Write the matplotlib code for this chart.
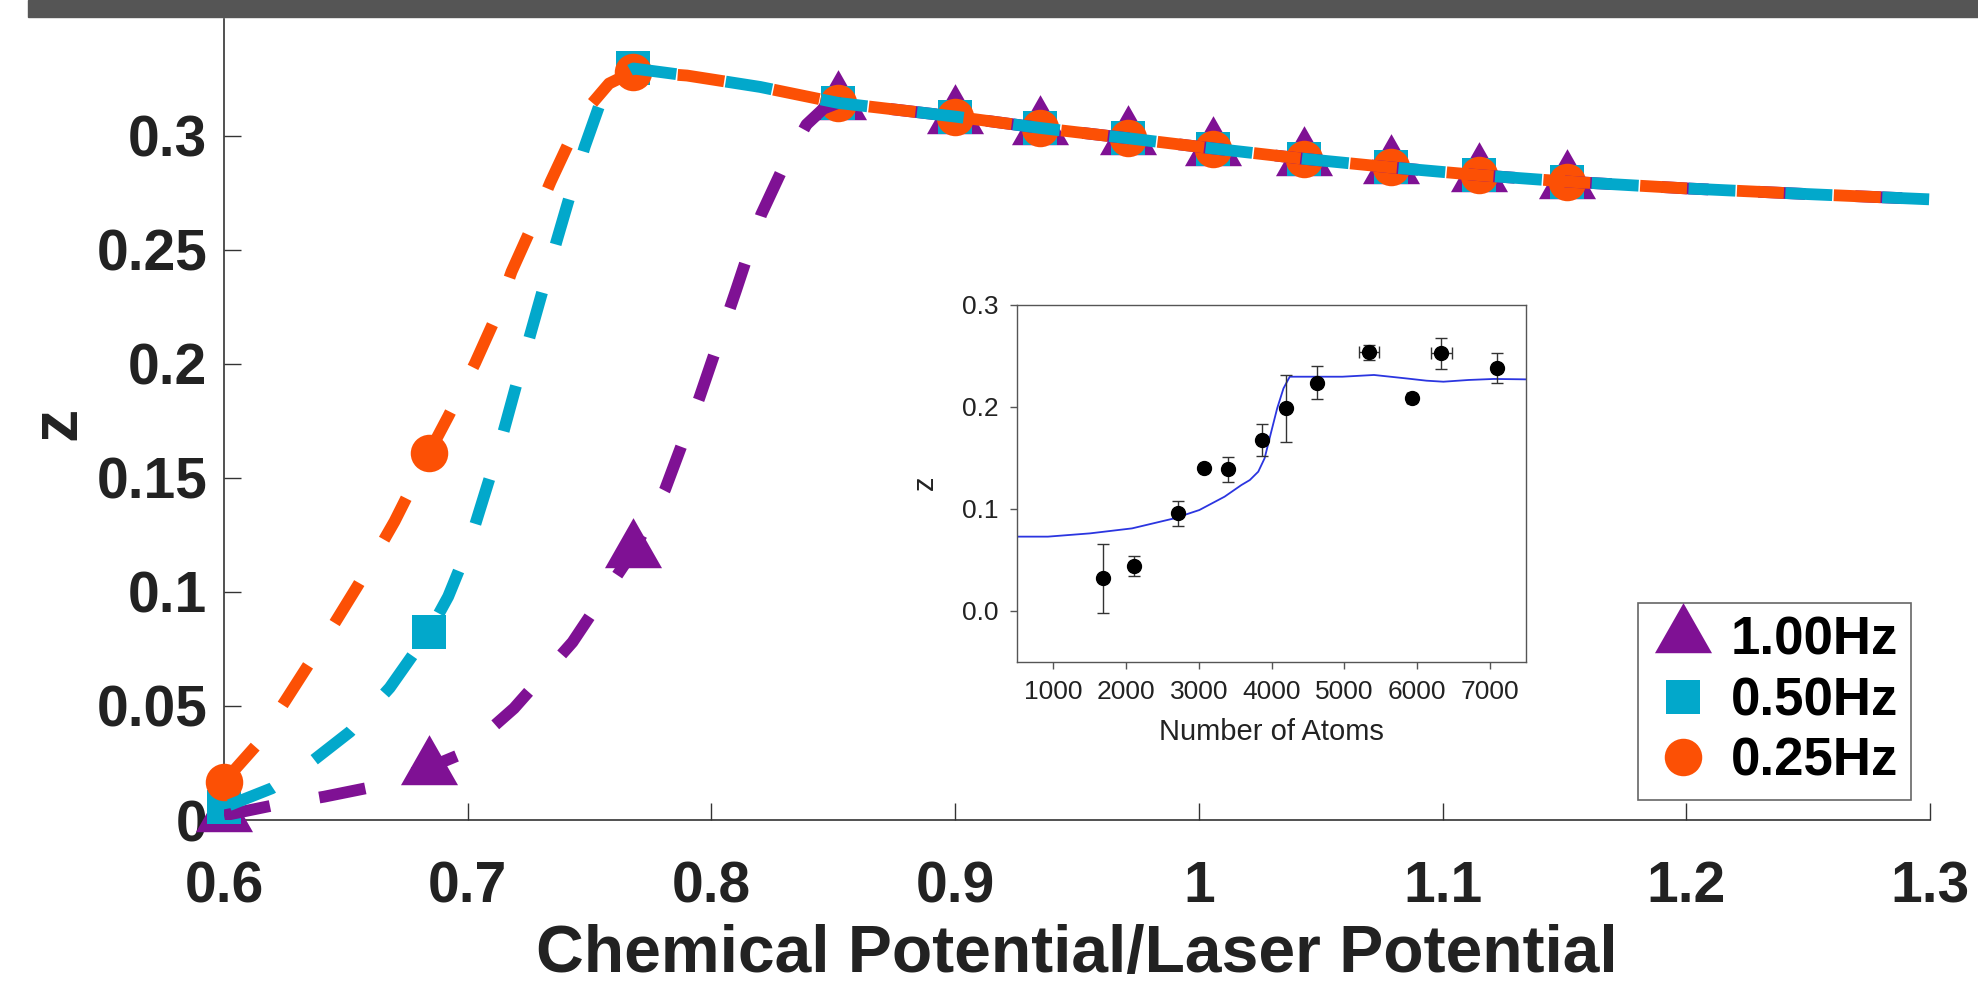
import numpy as np
import matplotlib
matplotlib.use('Agg')
import matplotlib.pyplot as plt
from matplotlib.lines import Line2D
from matplotlib.markers import MarkerStyle
from matplotlib.path import Path
from matplotlib.patches import Rectangle

plt.rcParams['font.family'] = ['Liberation Sans', 'DejaVu Sans']
plt.rcParams['lines.scale_dashes'] = False

# ---- main chart data ----
LABELS = ['1.00Hz', '0.50Hz', '0.25Hz']
MARK_X = [0.600, 0.684, 0.768, 0.852, 0.900, 0.935, 0.971, 1.006, 1.043, 1.079, 1.115, 1.151]
Z_100 = [0.002, 0.023, 0.118, 0.3145, 0.3085, 0.3035, 0.299, 0.2945, 0.290, 0.2862, 0.2828, 0.280]
Z_050 = [0.0056, 0.0823, 0.3296, 0.3145, 0.3085, 0.3035, 0.299, 0.2945, 0.290, 0.2862, 0.2828, 0.280]
Z_025 = [0.0168, 0.1608, 0.3282, 0.3145, 0.3085, 0.3035, 0.299, 0.2945, 0.290, 0.2862, 0.2828, 0.280]

# dashed curves: rising part of each series, then the shared falling part
HEAD_100_X = [0.600, 0.621, 0.641, 0.660, 0.684, 0.698, 0.719, 0.743, 0.768, 0.781, 0.795,
              0.810, 0.8204, 0.8302, 0.839, 0.846]
HEAD_100_Y = [0.002, 0.0066, 0.0102, 0.0143, 0.023, 0.0292, 0.049, 0.078, 0.118, 0.145, 0.185,
              0.232, 0.2655, 0.288, 0.305, 0.312]
HEAD_050_X = [0.600, 0.6196, 0.636, 0.6517, 0.668, 0.684, 0.692, 0.700, 0.709, 0.7146, 0.7201,
              0.7256, 0.731, 0.7365, 0.742, 0.748, 0.7543, 0.761, 0.768]
HEAD_050_Y = [0.0056, 0.0139, 0.0256, 0.0387, 0.058, 0.0823, 0.098, 0.119, 0.150, 0.170, 0.1915,
              0.2127, 0.2332, 0.254, 0.2741, 0.2953, 0.3143, 0.3255, 0.3296]
HEAD_025_X = [0.600, 0.6134, 0.625, 0.640, 0.655, 0.670, 0.684, 0.692, 0.703, 0.711, 0.718,
              0.726, 0.734, 0.742, 0.750, 0.758, 0.768]
HEAD_025_Y = [0.0168, 0.0329, 0.052, 0.077, 0.103, 0.131, 0.1608, 0.177, 0.2003, 0.2193, 0.2405,
              0.2595, 0.2799, 0.2982, 0.313, 0.323, 0.3282]
TAIL_X = [0.790, 0.820, 0.852, 0.900, 0.935, 0.971, 1.006, 1.043, 1.079, 1.115, 1.151,
          1.200, 1.250, 1.300]
TAIL_Y = [0.3265, 0.3215, 0.3145, 0.3085, 0.3035, 0.299, 0.2945, 0.290, 0.2862, 0.2828, 0.280,
          0.2770, 0.2745, 0.2722]

# ---- inset data ----
ATOMS = [1677, 2111, 2718, 3066, 3401, 3864, 4194, 4628, 5340, 5930, 6335, 7104]
Z_EXP = [0.032, 0.0441, 0.0958, 0.1405, 0.1389, 0.1676, 0.1987, 0.2239, 0.2536, 0.2085, 0.2526, 0.2379]
Z_ERR = [0.034, 0.0095, 0.012, 0.0, 0.0122, 0.016, 0.033, 0.016, 0.0074, 0.004, 0.015, 0.0147]
ATOMS_ERR = [0, 0, 0, 0, 0, 0, 0, 0, 140, 60, 145, 0]
FIT_ATOMS = [500, 925, 1503, 2082, 2661, 3008, 3355, 3586, 3702, 3818, 3905, 3991, 4078, 4165,
             4251, 4396, 4975, 5409, 5843, 6132, 6364, 6711, 7058, 7500]
FIT_Z = [0.0729, 0.0729, 0.0761, 0.081, 0.0908, 0.099, 0.1121, 0.1235, 0.1284, 0.1366, 0.1497,
         0.1742, 0.1987, 0.2183, 0.2297, 0.2297, 0.2297, 0.2314, 0.2281, 0.2258, 0.2248, 0.2265,
         0.2275, 0.2271]

PURPLE = '#7f1194'
CYAN = '#02a8cb'
ORANGE = '#fc5005'
TXT = '#222222'

W, H = 1978, 983
fig = plt.figure(figsize=(W / 100, H / 100), dpi=100)
fig.patches.append(Rectangle((28 / W, 1 - 17 / H), 1, 17 / H, transform=fig.transFigure,
                             color='#555555', zorder=0))

ax = fig.add_axes([224 / W, 1 - 820 / H, 1706 / W, 801 / H])
ax.set_xlim(0.6, 1.3)
ax.set_ylim(0, 0.3513)
for s in ['top', 'right']:
    ax.spines[s].set_visible(False)
for s in ['left', 'bottom']:
    ax.spines[s].set_color('#333333')
    ax.spines[s].set_linewidth(1.2)

# triangle centred on its centroid (like the original)
tri = MarkerStyle(Path([(0, 33.3), (-28.5, -16.7), (28.5, -16.7), (0, 33.3)], closed=True))

ax.plot(MARK_X, Z_100, ls='none', marker=tri, ms=48, mew=0, color=PURPLE, zorder=3, clip_on=False)
ax.plot(MARK_X, Z_050, ls='none', marker='s', ms=24.5, mew=0, color=CYAN, zorder=3.1, clip_on=False)
ax.plot(MARK_X, Z_025, ls='none', marker='o', ms=27, mew=0, color=ORANGE, zorder=3.2, clip_on=False)

x100, y100 = HEAD_100_X + TAIL_X[2:], HEAD_100_Y + TAIL_Y[2:]
x050, y050 = HEAD_050_X + TAIL_X, HEAD_050_Y + TAIL_Y
x025, y025 = HEAD_025_X + TAIL_X, HEAD_025_Y + TAIL_Y

# dash pattern (points); blue is shifted so it fills the gaps of orange where they overlap
ON, OFF, LW = 33.8, 36.0, 8.5
period = (ON + OFF) / 72 * fig.dpi


def arc_px(xs, ys):
    pts = ax.transData.transform(np.column_stack([xs, ys]))
    return np.hypot(*np.diff(pts, axis=0).T).sum()


len_o = arc_px(HEAD_025_X + TAIL_X[:1], HEAD_025_Y + TAIL_Y[:1])
len_b = arc_px(HEAD_050_X + TAIL_X[:1], HEAD_050_Y + TAIL_Y[:1])
off_b = ((len_o % period) + period / 2 - len_b) % period * 72 / fig.dpi

ax.plot(x100, y100, color=PURPLE, lw=LW, ls=(0, (ON, OFF)), zorder=4)
ax.plot(x050, y050, color=CYAN, lw=LW, ls=(off_b, (ON, OFF)), zorder=4.1)
ax.plot(x025, y025, color=ORANGE, lw=LW, ls=(0, (ON, OFF)), zorder=4.2)

xt = [0.6, 0.7, 0.8, 0.9, 1.0, 1.1, 1.2, 1.3]
yt = [0, 0.05, 0.1, 0.15, 0.2, 0.25, 0.3]
ax.set_xticks(xt, ['0.6', '0.7', '0.8', '0.9', '1', '1.1', '1.2', '1.3'],
              fontsize=41, fontweight='bold', color=TXT)
ax.set_yticks(yt, ['0', '0.05', '0.1', '0.15', '0.2', '0.25', '0.3'],
              fontsize=41, fontweight='bold', color=TXT)
ax.tick_params(axis='x', direction='in', length=12, width=1.0, color='#333333', pad=29)
ax.tick_params(axis='y', direction='in', length=12, width=1.0, color='#333333', pad=12)

ax.set_xlabel('Chemical Potential/Laser Potential', fontsize=47.5, fontweight='bold',
              color=TXT, va='baseline')
ax.xaxis.set_label_coords(0.5, -0.1898)
ax.set_ylabel('z', fontsize=48, fontweight='bold', color=TXT, va='center')
ax.yaxis.set_label_coords(-0.0973, 0.4956)

handles = [Line2D([], [], ls='none', marker=tri, ms=48, mew=0, color=PURPLE),
           Line2D([], [], ls='none', marker='s', ms=24.5, mew=0, color=CYAN),
           Line2D([], [], ls='none', marker='o', ms=27, mew=0, color=ORANGE)]
leg = ax.legend(handles, LABELS, loc='lower right', bbox_to_anchor=(1911 / W, 1 - 800 / H),
                bbox_transform=fig.transFigure, borderaxespad=0, numpoints=1,
                prop={'weight': 'bold', 'size': 38}, fancybox=False, edgecolor='#666666',
                framealpha=1, handlelength=1.2, handletextpad=0.3, borderpad=0.25,
                labelspacing=0.2)
leg.get_frame().set_linewidth(1.2)

# ---- inset ----
axi = fig.add_axes([1017 / W, 1 - 662 / H, 509 / W, 357 / H])
axi.set_xlim(500, 7500)
axi.set_ylim(-0.05, 0.3)
for s in axi.spines.values():
    s.set_color('#555555')
    s.set_linewidth(1.0)
axi.plot(FIT_ATOMS, FIT_Z, color='#2b35e0', lw=1.3, zorder=2)
axi.errorbar(ATOMS, Z_EXP, yerr=Z_ERR, xerr=ATOMS_ERR, fmt='o', ms=10, color='black',
             ecolor='#333333', elinewidth=1.0, capsize=4, capthick=1.0, zorder=3)
axi.set_xticks([1000, 2000, 3000, 4000, 5000, 6000, 7000],
               ['1000', '2000', '3000', '4000', '5000', '6000', '7000'], fontsize=19, color=TXT)
axi.set_yticks([0.0, 0.1, 0.2, 0.3], ['0.0', '0.1', '0.2', '0.3'], fontsize=19, color=TXT)
axi.tick_params(direction='out', length=5, width=1.0, color='#555555', pad=8)
axi.set_xlabel('Number of Atoms', fontsize=21, color=TXT, labelpad=10)
axi.set_ylabel('z', fontsize=21, color=TXT, va='center')
axi.yaxis.set_label_coords(-0.181, 0.501)

fig.savefig('out.png', dpi=100)
